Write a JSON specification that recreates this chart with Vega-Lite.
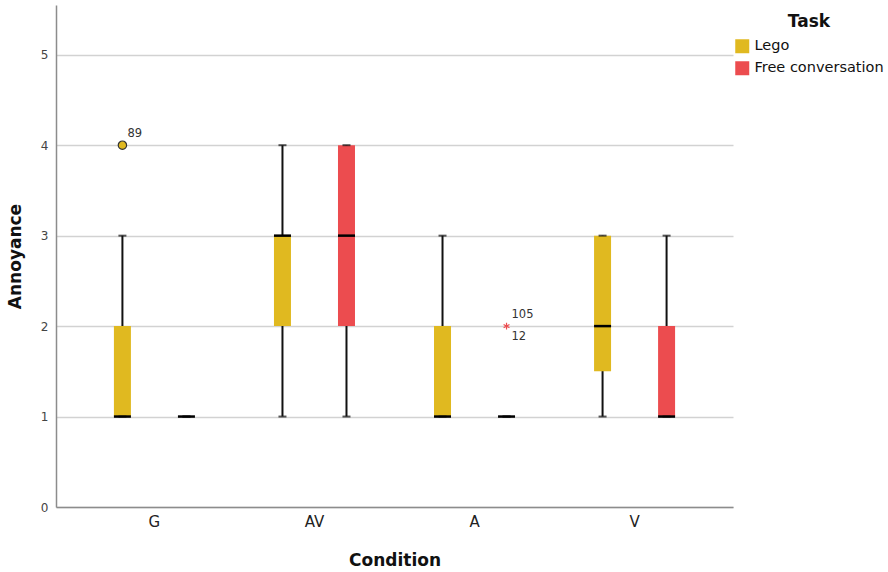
{
  "$schema": "https://vega.github.io/schema/vega-lite/v6.json",
  "width": 677,
  "height": 502,
  "autosize": "none",
  "padding": {"left": 56, "top": 5, "right": 155, "bottom": 65},
  "background": "white",
  "config": {
    "font": "DejaVu Sans",
    "view": {"stroke": null},
    "axis": {"domainColor": "#8c8c8c", "domainWidth": 1.5, "ticks": false}
  },
  "datasets": {
    "boxes": [
      {"Condition": "G", "Task": "Lego", "min": 1, "q1": 1, "median": 1, "q3": 2, "max": 3},
      {"Condition": "G", "Task": "Free conversation", "min": 1, "q1": 1, "median": 1, "q3": 1, "max": 1},
      {"Condition": "AV", "Task": "Lego", "min": 1, "q1": 2, "median": 3, "q3": 3, "max": 4},
      {"Condition": "AV", "Task": "Free conversation", "min": 1, "q1": 2, "median": 3, "q3": 4, "max": 4},
      {"Condition": "A", "Task": "Lego", "min": 1, "q1": 1, "median": 1, "q3": 2, "max": 3},
      {"Condition": "A", "Task": "Free conversation", "min": 1, "q1": 1, "median": 1, "q3": 1, "max": 1},
      {"Condition": "V", "Task": "Lego", "min": 1, "q1": 1.5, "median": 2, "q3": 3, "max": 3},
      {"Condition": "V", "Task": "Free conversation", "min": 1, "q1": 1, "median": 1, "q3": 2, "max": 3}
    ],
    "outliers": [
      {"Condition": "G", "Task": "Lego", "value": 4, "kind": "outlier", "case": "89"},
      {"Condition": "A", "Task": "Free conversation", "value": 2, "kind": "extreme", "case": "105"}
    ],
    "extremeCases": [
      {"Condition": "A", "Task": "Free conversation", "value": 2, "case": "12"}
    ]
  },
  "encoding": {
    "x": {
      "field": "Condition",
      "type": "nominal",
      "sort": ["G", "AV", "A", "V"],
      "scale": {"paddingInner": 0, "paddingOuter": 0.115},
      "axis": {
        "labelAngle": 0,
        "labelFontSize": 15,
        "labelColor": "#222222",
        "labelPadding": 7,
        "title": "Condition",
        "titleFontSize": 17,
        "titleFontWeight": "bold",
        "titleColor": "#111111",
        "titlePadding": 23
      }
    },
    "xOffset": {
      "field": "Task",
      "type": "nominal",
      "sort": ["Lego", "Free conversation"],
      "scale": {"paddingInner": 0, "paddingOuter": 0.25}
    }
  },
  "layer": [
    {
      "data": {"name": "boxes"},
      "mark": {"type": "rule", "color": "#111111", "strokeWidth": 2},
      "encoding": {
        "y": {
          "field": "min",
          "type": "quantitative",
          "scale": {"domain": [0, 5.55], "nice": false},
          "axis": {
            "values": [0, 1, 2, 3, 4, 5],
            "format": "d",
            "grid": true,
            "gridColor": "#d2d2d2",
            "gridWidth": 1.5,
            "labelFontSize": 12,
            "labelColor": "#444444",
            "labelPadding": 8,
            "title": "Annoyance",
            "titleFontSize": 17,
            "titleFontWeight": "bold",
            "titleColor": "#111111",
            "titlePadding": 16
          }
        },
        "y2": {"field": "max"}
      }
    },
    {
      "data": {"name": "boxes"},
      "mark": {"type": "bar", "width": 17},
      "encoding": {
        "y": {"field": "q1", "type": "quantitative"},
        "y2": {"field": "q3"},
        "color": {
          "field": "Task",
          "type": "nominal",
          "sort": ["Lego", "Free conversation"],
          "scale": {"domain": ["Lego", "Free conversation"], "range": ["#E0B920", "#EC4C4F"]},
          "legend": {
            "orient": "none",
            "legendX": 679,
            "legendY": 9,
            "title": "Task",
            "titleFontSize": 17,
            "titleFontWeight": "bold",
            "titleColor": "#111111",
            "titleAnchor": "middle",
            "titlePadding": 8,
            "symbolType": "square",
            "symbolSize": 196,
            "symbolStrokeWidth": 0,
            "labelFontSize": 14.5,
            "labelColor": "#111111",
            "labelOffset": 5,
            "rowPadding": 6
          }
        }
      }
    },
    {
      "data": {"name": "boxes"},
      "mark": {"type": "tick", "color": "#111111", "thickness": 2, "size": 8},
      "encoding": {"y": {"field": "max", "type": "quantitative"}}
    },
    {
      "data": {"name": "boxes"},
      "mark": {"type": "tick", "color": "#111111", "thickness": 2, "size": 8},
      "encoding": {"y": {"field": "min", "type": "quantitative"}}
    },
    {
      "data": {"name": "boxes"},
      "mark": {"type": "tick", "color": "#000000", "thickness": 2.5, "size": 17, "opacity": 1},
      "encoding": {"y": {"field": "median", "type": "quantitative"}}
    },
    {
      "data": {"name": "outliers"},
      "transform": [{"filter": "datum.kind === 'outlier'"}],
      "mark": {"type": "point", "shape": "circle", "filled": true, "size": 70, "fill": "#E0B920", "stroke": "#333333", "strokeWidth": 1.2, "opacity": 1},
      "encoding": {"y": {"field": "value", "type": "quantitative"}}
    },
    {
      "data": {"name": "outliers"},
      "transform": [{"filter": "datum.kind === 'extreme'"}],
      "mark": {"type": "point", "shape": "M0,-1L0,1M-0.87,-0.5L0.87,0.5M-0.87,0.5L0.87,-0.5", "filled": false, "size": 45, "stroke": "#EC4C4F", "strokeWidth": 1.2, "opacity": 1},
      "encoding": {"y": {"field": "value", "type": "quantitative"}}
    },
    {
      "data": {"name": "outliers"},
      "mark": {"type": "text", "align": "left", "baseline": "bottom", "dx": 5, "dy": -6, "fontSize": 11.5, "color": "#333333"},
      "encoding": {"y": {"field": "value", "type": "quantitative"}, "text": {"field": "case"}}
    },
    {
      "data": {"name": "extremeCases"},
      "mark": {"type": "text", "align": "left", "baseline": "top", "dx": 5, "dy": 5, "fontSize": 11.5, "color": "#333333"},
      "encoding": {"y": {"field": "value", "type": "quantitative"}, "text": {"field": "case"}}
    }
  ]
}
